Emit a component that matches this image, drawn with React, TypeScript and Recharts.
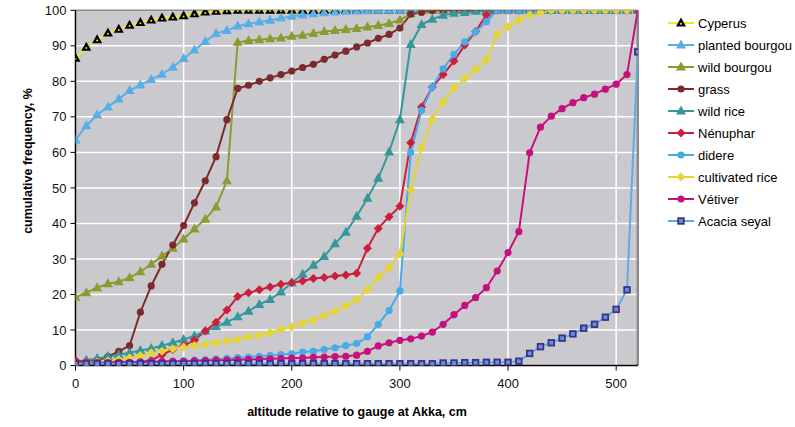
import React from "react";
import {
  LineChart,
  Line,
  XAxis,
  YAxis,
  CartesianGrid,
  ReferenceLine,
} from "recharts";

// altitude relative to gauge at Akka, cm
const altitude = [
  0, 10, 20, 30, 40, 50, 60, 70, 80, 90, 100, 110, 120, 130, 140, 150, 160,
  170, 180, 190, 200, 210, 220, 230, 240, 250, 260, 270, 280, 290, 300, 310,
  320, 330, 340, 350, 360, 370, 380, 390, 400, 410, 420, 430, 440, 450, 460,
  470, 480, 490, 500, 510, 520,
];

const cyperus = [
  86.5, 89.6, 91.7, 93.6, 94.7, 95.8, 96.6, 97.3, 97.8, 98.1, 98.5, 99, 99.5,
  99.7, 99.9, 100, 100, 100, 100, 100, 100, 100, 100, 100, 100, 100, 100, 100,
  100, 100, 100, 100, 100, 100, 100, 100, 100, 100, 100, 100, 100, 100, 100,
  100, 100, 100, 100, 100, 100, 100, 100, 100, 100,
];
const plantedBourgou = [
  63.5, 67.5, 70.6, 72.8, 75, 77.4, 79, 80.5, 82, 84, 86.4, 88.8, 91.2, 93.5,
  94.3, 95.6, 96.2, 96.7, 97.2, 97.8, 98.3, 98.7, 99, 99.3, 99.5, 99.7, 99.8,
  99.9, 100, 100, 100, 100, 100, 100, 100, 100, 100, 100, 100, 100, 100, 100,
  100, 100, 100, 100, 100, 100, 100, 100, 100, 100, 100,
];
const wildBourgou = [
  19.2, 20.5, 21.9, 23, 23.6, 24.7, 26.4, 28.5, 30.8, 33, 35.6, 38.4, 41.2,
  44.6, 52, 91, 91.4, 91.7, 92, 92.2, 92.7, 93, 93.5, 94, 94.3, 94.6, 94.9,
  95.3, 95.7, 96.3, 97.3, 99, 100, 100, 100, 100, 100, 100, 100, 100, 100, 100,
  100, 100, 100, 100, 100, 100, 100, 100, 100, 100, 100,
];
const grass = [
  0.5, 1, 1.5, 2.5, 4, 5.6, 15, 22.4, 28.5, 33.9, 39.4, 45.8, 52, 58.8, 69.2,
  78, 78.9, 80, 81, 81.9, 82.9, 83.9, 84.8, 86.2, 87.4, 88.5, 89.7, 90.8, 92.1,
  93.2, 95, 98.9, 99.4, 100, 100, 100, 100, 100, 100, 100, 100, 100, 100, 100,
  100, 100, 100, 100, 100, 100, 100, 100, 100,
];
const wildRice = [
  1, 1.5, 2, 2.5, 3, 3.6, 4.2, 4.8, 5.6, 6.4, 7.3, 8.3, 9.7, 10.9, 12.2, 13.7,
  15.3, 17.2, 18.6, 20.7, 23.3, 25.7, 28.2, 30.7, 34.3, 37.5, 42, 47.1, 52.7,
  60.1, 69.2, 90.4, 96, 97.5, 98.6, 99.2, 99.4, 99.7, 99.8, 100, 100, 100, 100,
  100, 100, 100, 100, 100, 100, 100, 100, 100, 100,
];
const nenuphar = [
  1.5, 1, 1, 1, 1, 1, 1, 1.5, 3, 4.5, 5.6, 7.1, 9.7, 12.2, 15.6, 19.4, 20.5,
  21.3, 22.1, 22.9, 23.3, 23.8, 24.5, 24.8, 25.2, 25.5, 26, 33, 38.6, 41.9,
  44.8, 62.7, 72.8, 78.4, 81.9, 85.7, 90.2, 94, 98.7, 100, 100, 100, 100, 100,
  100, 100, 100, 100, 100, 100, 100, 100, 100,
];
const didere = [
  0.5, 0.5, 0.5, 0.6, 0.7, 0.8, 0.9, 1, 1.1, 1.2, 1.3, 1.5, 1.6, 1.8, 2, 2.2,
  2.4, 2.6, 2.8, 3.1, 3.3, 3.8, 4, 4.5, 5, 5.6, 6.2, 8.1, 11.6, 15.5, 21, 60,
  71.8, 78.4, 83.5, 87.6, 91.1, 94, 96.8, 100, 100, 100, 100, 100, 100, 100,
  100, 100, 100, 100, 100, 100, 100,
];
const cultivatedRice = [
  0.5, 0.8, 1, 1.3, 1.7, 2.2, 2.8, 3.6, 4, 4.7, 5.2, 5.6, 5.9, 6.4, 6.9, 7.3,
  8.1, 8.5, 9.2, 10.2, 10.9, 11.9, 12.8, 14.1, 15.3, 16.8, 18.5, 21.3, 24.8,
  27.6, 31.4, 49.5, 61.2, 69.3, 74.2, 78.1, 80.8, 83.3, 86, 93.2, 95.4, 97.3,
  98.7, 99.4, 100, 100, 100, 100, 100, 100, 100, 100, 100,
];
const vetiver = [
  0.8, 0.8, 0.8, 0.8, 0.9, 0.9, 1, 1, 1.1, 1.2, 1.2, 1.3, 1.4, 1.5, 1.5, 1.6,
  1.7, 1.8, 1.9, 2, 2.1, 2.1, 2.3, 2.4, 2.5, 2.6, 2.9, 4, 5.5, 6.4, 7.1, 7.5,
  8.3, 9.4, 11.6, 14.3, 16.9, 19.1, 21.9, 26.6, 31.8, 37.7, 59.9, 67.1, 70.2,
  72.3, 74, 75.4, 76.4, 77.8, 79.2, 81.9, 100,
];
const acaciaSeyal = [
  0.5, 0.5, 0.5, 0.5, 0.5, 0.5, 0.5, 0.5, 0.5, 0.5, 0.5, 0.5, 0.5, 0.5, 0.5,
  0.5, 0.5, 0.5, 0.5, 0.5, 0.5, 0.5, 0.5, 0.5, 0.5, 0.5, 0.5, 0.5, 0.5, 0.5,
  0.5, 0.5, 0.5, 0.5, 0.7, 0.7, 0.8, 0.8, 0.9, 0.9, 0.9, 1.2, 3.4, 5.3, 6.4,
  7.7, 8.9, 10.5, 11.6, 13.6, 15.8, 21.3, 88.3,
];

const xTicks = [0, 100, 200, 300, 400, 500];
const yTicks = [0, 10, 20, 30, 40, 50, 60, 70, 80, 90, 100];

type Marker = "cyperus" | "triangle" | "circle" | "diamond" | "square";

const series: {
  key: string;
  name: string;
  values: number[];
  line: string;
  marker: Marker;
  markerColor: string;
}[] = [
  { key: "cyperus", name: "Cyperus", values: cyperus, line: "#F2EC1E", marker: "cyperus", markerColor: "#000000" },
  { key: "planted", name: "planted bourgou", values: plantedBourgou, line: "#58AEE8", marker: "triangle", markerColor: "#58AEE8" },
  { key: "wildb", name: "wild bourgou", values: wildBourgou, line: "#8D9A30", marker: "triangle", markerColor: "#8D9A30" },
  { key: "grass", name: "grass", values: grass, line: "#7D2A2E", marker: "circle", markerColor: "#7D2A2E" },
  { key: "wildrice", name: "wild rice", values: wildRice, line: "#34979B", marker: "triangle", markerColor: "#34979B" },
  { key: "nenuphar", name: "Nénuphar", values: nenuphar, line: "#CC1E3C", marker: "diamond", markerColor: "#CC1E3C" },
  { key: "didere", name: "didere", values: didere, line: "#47ABE8", marker: "circle", markerColor: "#47ABE8" },
  { key: "cultrice", name: "cultivated rice", values: cultivatedRice, line: "#E6D430", marker: "diamond", markerColor: "#E6D430" },
  { key: "vetiver", name: "Vétiver", values: vetiver, line: "#C5117F", marker: "circle", markerColor: "#C5117F" },
  { key: "acacia", name: "Acacia seyal", values: acaciaSeyal, line: "#5AAEE6", marker: "square", markerColor: "#3D2F8C" },
];

const data = altitude.map((x, i) => {
  const row: Record<string, number> = { x };
  series.forEach((s) => {
    row[s.key] = s.values[i];
  });
  return row;
});

function MarkerShape({ kind, cx, cy, color }: { kind: Marker; cx: number; cy: number; color: string }) {
  switch (kind) {
    case "cyperus":
      return (
        <g>
          <polygon points={`${cx},${cy - 5.5} ${cx + 5},${cy + 3.5} ${cx - 5},${cy + 3.5}`} fill="#000" />
          <circle cx={cx} cy={cy + 0.8} r={1} fill="#F2EC1E" />
        </g>
      );
    case "triangle":
      return <polygon points={`${cx},${cy - 5.5} ${cx + 5},${cy + 3.5} ${cx - 5},${cy + 3.5}`} fill={color} />;
    case "circle":
      return <circle cx={cx} cy={cy} r={3.6} fill={color} />;
    case "diamond":
      return <polygon points={`${cx},${cy - 4.5} ${cx + 4.5},${cy} ${cx},${cy + 4.5} ${cx - 4.5},${cy}`} fill={color} />;
    case "square":
      return (
        <rect x={cx - 2.8} y={cy - 2.8} width={5.6} height={5.6} fill="#6F8FD0" stroke={color} strokeWidth={1.8} />
      );
  }
  return null;
}

const makeDot = (kind: Marker, color: string, name: string) => (props: any) => {
  const { cx, cy, index } = props;
  if (cx == null || cy == null) return <g key={`${name}-${index}`} />;
  return (
    <g key={`${name}-${index}`}>
      <MarkerShape kind={kind} cx={cx} cy={cy} color={color} />
    </g>
  );
};

const font = "'Liberation Sans', Arial, sans-serif";

function LegendBox() {
  return (
    <div
      style={{
        position: "absolute",
        left: 668,
        top: 12,
        fontFamily: font,
        fontSize: 13,
        color: "#000",
      }}
    >
      {series.map((s) => (
        <div key={s.key} style={{ display: "flex", alignItems: "center", height: 22 }}>
          <svg width={28} height={12} style={{ marginRight: 2 }}>
            <line x1={0} y1={6} x2={26} y2={6} stroke={s.line} strokeWidth={2} />
            <MarkerShape kind={s.marker} cx={13} cy={6} color={s.markerColor} />
          </svg>
          <span style={{ whiteSpace: "nowrap" }}>{s.name}</span>
        </div>
      ))}
    </div>
  );
}

export default function App() {
  return (
    <div style={{ position: "absolute", left: 0, top: 0, width: 795, height: 427, background: "#fff" }}>
      <LineChart
        width={795}
        height={427}
        data={data}
        margin={{ top: 10.3, right: 157.2, bottom: 41.5, left: 40 }}
      >
        <CartesianGrid stroke="#ffffff" strokeWidth={1.5} fill="#CACACE" />
        <XAxis
          type="number"
          dataKey="x"
          domain={[0, 520]}
          ticks={xTicks}
          allowDataOverflow
          height={20}
          tickSize={5}
          tickMargin={8}
          axisLine={{ stroke: "#000", strokeWidth: 1.5 }}
          tickLine={{ stroke: "#000" }}
          tick={{ fill: "#111", fontSize: 13, fontFamily: font }}
        />
        <YAxis
          type="number"
          domain={[0, 100]}
          ticks={yTicks}
          allowDataOverflow
          width={35.5}
          tickSize={5}
          tickMargin={4}
          axisLine={{ stroke: "#000", strokeWidth: 1.5 }}
          tickLine={{ stroke: "#000" }}
          tick={{ fill: "#111", fontSize: 13, fontFamily: font }}
        />
        <ReferenceLine y={100} stroke="#8C8C8C" strokeWidth={1.5} />
        <ReferenceLine x={520} stroke="#8C8C8C" strokeWidth={2.5} />
        {series.map((s) => (
          <Line
            key={s.key}
            dataKey={s.key}
            name={s.name}
            type="linear"
            stroke={s.line}
            strokeWidth={2}
            dot={makeDot(s.marker, s.markerColor, s.key)}
            activeDot={false}
            isAnimationActive={false}
          />
        ))}
      </LineChart>
      <LegendBox />
      <div
        style={{
          position: "absolute",
          left: 28,
          top: 161,
          transform: "translate(-50%, -50%) rotate(-90deg)",
          fontFamily: font,
          fontWeight: "bold",
          fontSize: 12.5,
          whiteSpace: "nowrap",
          color: "#000",
        }}
      >
        cumulative frequency, %
      </div>
      <div
        style={{
          position: "absolute",
          left: 357,
          top: 412,
          transform: "translate(-50%, -50%)",
          fontFamily: font,
          fontWeight: "bold",
          fontSize: 12.5,
          whiteSpace: "nowrap",
          color: "#000",
        }}
      >
        altitude relative to gauge at Akka, cm
      </div>
    </div>
  );
}
